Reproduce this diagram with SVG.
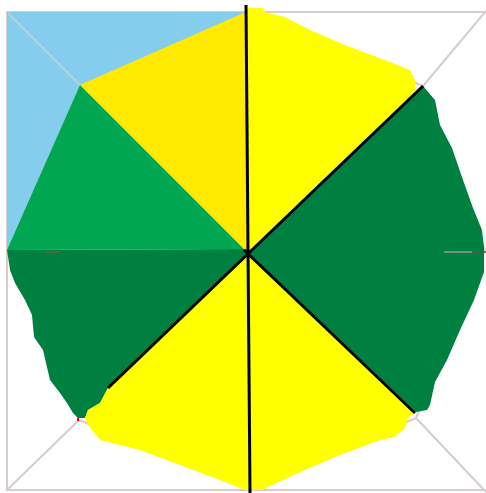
<svg xmlns="http://www.w3.org/2000/svg" width="486" height="493" viewBox="0 0 486 493">
<style>
.g{stroke:#d6cccc;stroke-width:2;fill:none}
.k{stroke:#000;stroke-width:3;fill:none;stroke-linecap:butt}
</style>
<rect width="486" height="493" fill="#fff"/>
<g id="frame">
<path class="g" d="M486 12H7V490H486"/>
<path class="g" d="M7 12L80 85M486 11L423 86M7 490L79 420M486 492L416 418"/>
<path class="g" d="M80 85L246 12M80 85L7 250M423 86L246 12M423 86L485 250M79 420L7 250M79 420L248 490M416 418L485 250M416 418L248 490"/>
</g>
<g id="fills">
<polygon fill="#84cdec" points="7,12 246,12 80,85 7,250"/>
<line x1="8" y1="13" x2="80" y2="85" stroke="#b4d2de" stroke-width="2"/>
<polygon fill="#ffea00" points="246,12 248,12 248,253 80,85"/>
<polygon fill="#00a650" points="80,85 7,250 246,249 248,253"/>
<polygon fill="#ffff00" points="247,8 263,8 265,12 285,17 310,30 345,45 390,62 410,70 415,80 415,93 248,253"/>
<polygon fill="#008040" points="248,253 423,86 435,100 440,125 452,148 463,180 473,208 482,230 484,247 484,272 474,300 460,330 447,360 435,382 430,405 427,410 416,412"/>
<polygon fill="#008040" points="7,250 246,249 248,253 108,388 100,403 88,410 85,418 78,418 73,413 67,403 60,393 50,380 43,350 34,337 32,315 25,300 15,283 10,270"/>
<polygon fill="#ffff00" points="248,253 108,388 100,403 88,410 85,418 88,425 100,440 140,450 180,465 220,480 245,490 262,490 270,486 300,472 340,455 380,440 395,437 405,428 408,418 415,413"/>
</g>
<g id="marks">
<line x1="444" y1="252" x2="472" y2="252" stroke="#9a9a9a" stroke-width="1.5"/>
<line x1="472" y1="252" x2="486" y2="252" stroke="#555" stroke-width="1.5"/>
<line x1="43" y1="252" x2="60" y2="252" stroke="#7a5a5a" stroke-width="1.2"/>
<rect x="77" y="418" width="2" height="3" fill="#e00"/>
</g>
<g id="lines">
<line class="k" x1="246" y1="5" x2="250" y2="493"/>
<line class="k" x1="423" y1="86" x2="108" y2="388"/>
<line class="k" x1="244" y1="250" x2="415" y2="413"/>
</g>
</svg>
